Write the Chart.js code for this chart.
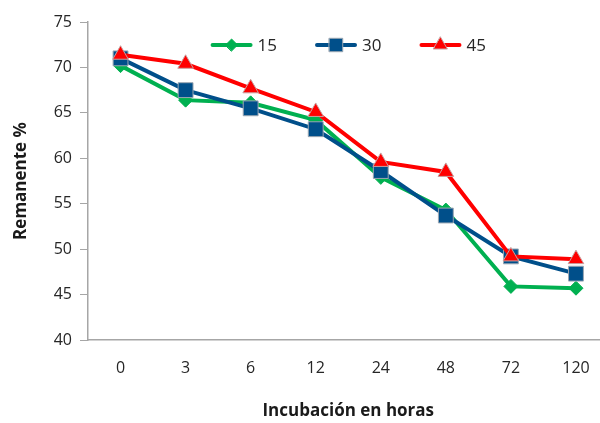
<!DOCTYPE html>
<html>
<head>
<meta charset="utf-8">
<script src="https://cdn.jsdelivr.net/npm/chart.js@4/dist/chart.umd.min.js"></script>
<style>
  html, body { margin: 0; padding: 0; background: #fff; overflow: hidden; }
  #wrap { width: 620px; height: 423px; }
</style>
</head>
<body>
<div id="wrap"><canvas id="chart" width="620" height="423"></canvas></div>
<script>
// data
var horas = ["0", "3", "6", "12", "24", "48", "72", "120"];
var serie15 = [70.2, 66.4, 66.1, 64.2, 57.9, 54.3, 45.9, 45.7];
var serie30 = [71.0, 67.5, 65.5, 63.2, 58.6, 53.7, 49.2, 47.3];
var serie45 = [71.4, 70.4, 67.7, 65.1, 59.6, 58.5, 49.2, 48.9];
var yTicks = [40, 45, 50, 55, 60, 65, 70, 75];

var verde = "#00b050";
var azul = "#004f8a";
var rojo = "#ff0000";
var fuente = "'Open Sans', Lato, sans-serif";

// legend drawn inside the plot area, like the spreadsheet one: line + marker + text
var legendaInterna = {
    id: "legendaInterna",
    afterDatasetsDraw: function (chart) {
        var ctx = chart.ctx;
        var area = chart.chartArea;
        var sets = chart.data.datasets;
        var lineW = 42, gap = 5, spacing = 38;
        ctx.save();
        ctx.font = "17px " + fuente;
        var widths = sets.map(function (ds) { return lineW + gap + ctx.measureText(ds.label).width; });
        var total = widths.reduce(function (a, b) { return a + b; }, 0) + spacing * (sets.length - 1);
        var x = (area.left + area.right) / 2 - total / 2;
        var y = area.top + 23;
        sets.forEach(function (ds, i) {
            ctx.strokeStyle = ds.borderColor;
            ctx.lineWidth = 4;
            ctx.lineCap = "round";
            ctx.beginPath();
            ctx.moveTo(x + 2, y);
            ctx.lineTo(x + lineW - 2, y);
            ctx.stroke();
            ctx.fillStyle = ds.backgroundColor;
            ctx.strokeStyle = ds.pointBorderColor;
            ctx.lineWidth = ds.pointBorderWidth;
            Chart.helpers.drawPoint(ctx, {
                pointStyle: ds.pointStyle,
                radius: ds.pointRadius - 1,
                borderWidth: ds.pointBorderWidth,
                rotation: 0
            }, x + lineW / 2, y);
            ctx.fillStyle = "#262626";
            ctx.textBaseline = "middle";
            ctx.textAlign = "left";
            ctx.fillText(ds.label, x + lineW + gap, y + 1);
            x += widths[i] + spacing;
        });
        ctx.restore();
    }
};

var lineChart = new Chart(document.getElementById("chart"), {
    type: "line",
    data: {
        labels: horas,
        datasets: [
            {
                label: "15",
                data: serie15,
                borderColor: verde,
                backgroundColor: verde,
                pointBorderColor: verde,
                borderWidth: 4,
                pointStyle: "rectRot",
                pointRadius: 7,
                pointBorderWidth: 1,
                order: 3,
                fill: false
            },
            {
                label: "30",
                data: serie30,
                borderColor: azul,
                backgroundColor: azul,
                pointBorderColor: "#9aa6b2",
                borderWidth: 4,
                pointStyle: "rect",
                pointRadius: 10.5,
                pointBorderWidth: 1,
                order: 2,
                fill: false
            },
            {
                label: "45",
                data: serie45,
                borderColor: rojo,
                backgroundColor: rojo,
                pointBorderColor: "#c8a0a0",
                borderWidth: 4,
                pointStyle: "triangle",
                pointRadius: 9,
                pointBorderWidth: 1,
                order: 1,
                fill: false
            }
        ]
    },
    options: {
        responsive: false,
        animation: false,
        layout: { padding: { top: 22, right: 4, left: 0, bottom: 0 } },
        plugins: {
            tooltip: { enabled: false },
            legend: { display: false }
        },
        scales: {
            x: {
                offset: true,
                grid: { display: true, drawOnChartArea: false, drawTicks: false },
                border: { display: true, color: "#a6a6a6", width: 1.5 },
                ticks: {
                    padding: 19,
                    color: "#262626",
                    font: { family: fuente, size: 16 },
                    maxRotation: 0
                },
                title: {
                    display: true,
                    text: "Incubación en horas",
                    color: "#1a1a1a",
                    font: { family: fuente, size: 17, weight: "bold" },
                    padding: { top: 16, bottom: 2 }
                },
                afterFit: function (scale) { scale.height = 83; }
            },
            y: {
                min: 40,
                max: 75,
                grid: { display: true, drawOnChartArea: false, drawTicks: true, tickLength: 8, color: "#a6a6a6" },
                border: { display: true, color: "#a6a6a6", width: 1.5 },
                afterBuildTicks: function (scale) {
                    scale.ticks = yTicks.map(function (v) { return { value: v }; });
                },
                ticks: {
                    padding: 8,
                    color: "#262626",
                    font: { family: fuente, size: 16 }
                },
                title: {
                    display: true,
                    text: "Remanente %",
                    color: "#1a1a1a",
                    font: { family: fuente, size: 17, weight: "bold" },
                    padding: { top: 11, bottom: 0 }
                },
                afterFit: function (scale) { scale.width = 88; }
            }
        }
    },
    plugins: [legendaInterna]
});
</script>
</body>
</html>
